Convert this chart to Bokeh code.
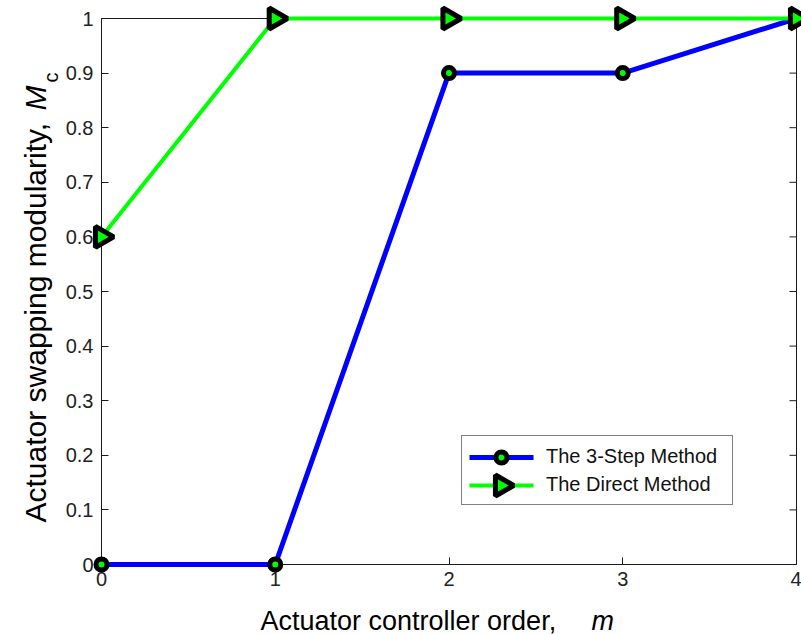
import math

from bokeh.core.properties import value
from bokeh.embed import file_html
from bokeh.models import FixedTicker, Legend, LegendItem, Range1d
from bokeh.plotting import figure
from bokeh.resources import INLINE

# Data
m_order = [0, 1, 2, 3, 4]
three_step = [0.0, 0.0, 0.9, 0.9, 1.0]
direct = [0.6, 1.0, 1.0, 1.0, 1.0]

x_ticks = [0, 1, 2, 3, 4]
y_ticks = [0, 0.1, 0.2, 0.3, 0.4, 0.5, 0.6, 0.7, 0.8, 0.9, 1]
y_tick_labels = ["0", "0.1", "0.2", "0.3", "0.4", "0.5", "0.6", "0.7", "0.8", "0.9", "1"]

series_names = ["The 3-Step Method", "The Direct Method"]

FONT = "Liberation Sans"
AXIS_COLOR = "#1a1a1a"
BLUE, GREEN = "#0000ff", "#00ff00"
X_MIN, X_MAX = 0, 4
Y_MIN, Y_MAX = 0, 1

# figure geometry (pixels)
W, H = 801, 634
BORDER_L, BORDER_R, BORDER_T, BORDER_B = 101, 5, 18, 70
FRAME_W = W - BORDER_L - BORDER_R
FRAME_H = H - BORDER_T - BORDER_B


def px_to_x(px):
    """Canvas pixel column -> data x."""
    return X_MIN + (px - BORDER_L) * (X_MAX - X_MIN) / FRAME_W


def px_to_y(py):
    """Canvas pixel row (from top) -> data y."""
    return Y_MIN + (H - BORDER_B - py) * (Y_MAX - Y_MIN) / FRAME_H


p = figure(
    width=W, height=H,
    x_range=Range1d(X_MIN, X_MAX), y_range=Range1d(Y_MIN, Y_MAX),
    min_border_left=BORDER_L, min_border_right=BORDER_R,
    min_border_top=BORDER_T, min_border_bottom=BORDER_B,
    output_backend="svg", toolbar_location=None,
    background_fill_color="white", border_fill_color="white",
)
p.grid.visible = False
p.outline_line_color = AXIS_COLOR

xa = p.xaxis[0]
ya = p.yaxis[0]
xa.ticker = FixedTicker(ticks=x_ticks)
ya.ticker = FixedTicker(ticks=y_ticks)
ya.major_label_overrides = dict(zip(y_ticks, y_tick_labels))
for ax in (xa, ya):
    ax.axis_line_color = AXIS_COLOR
    ax.major_tick_line_color = AXIS_COLOR
    ax.major_tick_in = 7
    ax.major_tick_out = 0
    ax.minor_tick_line_color = None
    ax.major_label_text_font = FONT
    ax.major_label_text_font_size = "20px"
    ax.major_label_text_color = "#222222"
xa.major_label_standoff = 7
ya.major_label_standoff = 8

# inward ticks on the top and right edges of the box
p.ray(x=x_ticks, y=[Y_MAX] * len(x_ticks), length=7, length_units="screen",
      angle=-math.pi / 2, line_color=AXIS_COLOR, line_width=1)
p.ray(x=[X_MAX] * len(y_ticks), y=y_ticks, length=7, length_units="screen",
      angle=math.pi, line_color=AXIS_COLOR, line_width=1)

# series styles shared by the plot and its legend
blue_line = dict(line_color=BLUE, line_width=5, level="overlay")
green_line = dict(line_color=GREEN, line_width=4, level="overlay")
circle_style = dict(marker="circle", size=11, line_color="black",
                    line_width=5, fill_color=GREEN, level="overlay")
tri_style = dict(marker="triangle", size=21, angle=-math.pi / 2,
                 line_color="black", line_width=5, fill_color=GREEN,
                 level="overlay")

# 3-step method: blue line with black-edged circles
p.line(m_order, three_step, **blue_line)
p.scatter(m_order, three_step, **circle_style)

# direct method: green line with black-edged right-pointing triangles
p.line(m_order, direct, **green_line)
p.scatter(m_order, direct, **tri_style)

# legend: box and labels from Bokeh's Legend, samples drawn as glyphs
LEG_X, LEG_Y = 360, 59          # bottom-left of the legend box, in frame px
LEG_PAD, GLYPH_W, ROW_H, ROW_GAP = 8, 64, 24, 4
key1 = p.line(m_order, three_step, line_alpha=0)
key2 = p.line(m_order, direct, line_alpha=0)
legend = Legend(
    items=[LegendItem(label=series_names[0], renderers=[key1]),
           LegendItem(label=series_names[1], renderers=[key2])],
    location=(LEG_X, LEG_Y),
    orientation="vertical",
    glyph_width=GLYPH_W, glyph_height=ROW_H,
    label_height=ROW_H, label_width=178,
    label_standoff=12, spacing=ROW_GAP, padding=LEG_PAD, margin=0,
    label_text_font=FONT, label_text_font_size="20px",
    label_text_color="#111111",
    border_line_color="black", border_line_width=1,
    background_fill_alpha=0,
)
p.add_layout(legend)

leg_top_px = H - BORDER_B - LEG_Y - (2 * LEG_PAD + 2 * ROW_H + ROW_GAP)
sample_x0 = px_to_x(BORDER_L + LEG_X + LEG_PAD)
sample_x1 = px_to_x(BORDER_L + LEG_X + LEG_PAD + GLYPH_W)
leg_cx = (sample_x0 + sample_x1) / 2
row1_cy = px_to_y(leg_top_px + LEG_PAD + ROW_H / 2)
row2_cy = px_to_y(leg_top_px + LEG_PAD + ROW_H + ROW_GAP + ROW_H / 2)
p.segment(x0=[sample_x0], y0=[row1_cy], x1=[sample_x1], y1=[row1_cy], **blue_line)
p.scatter([leg_cx], [row1_cy], **circle_style)
p.segment(x0=[sample_x0], y0=[row2_cy], x1=[sample_x1], y1=[row2_cy], **green_line)
p.scatter([leg_cx], [row2_cy], **tri_style)

# x axis title with italic symbol
p.text(x=[px_to_x(260)], y=[px_to_y(620)], text=["Actuator controller order,"],
       text_font=value(FONT), text_font_size="27px", text_color="black",
       text_align="left", text_baseline="alphabetic", level="overlay")
p.text(x=[px_to_x(591)], y=[px_to_y(620)], text=["m"], text_font=value(FONT),
       text_font_style="italic", text_font_size="27px", text_color="black",
       text_align="left", text_baseline="alphabetic", level="overlay")

# y axis title with italic M and subscript c
p.text(x=[px_to_x(35)], y=[px_to_y(522)], text=["Actuator swapping modularity,"],
       angle=math.pi / 2, text_font=value(FONT), text_font_size="30px",
       text_color="black", text_align="left", text_baseline="alphabetic",
       level="overlay")
p.text(x=[px_to_x(35)], y=[px_to_y(110)], text=["M"], angle=math.pi / 2,
       text_font=value(FONT), text_font_style="italic",
       text_font_size="30px", text_color="black", text_align="left",
       text_baseline="alphabetic", level="overlay")
p.text(x=[px_to_x(50)], y=[px_to_y(82)], text=["c"], angle=math.pi / 2,
       text_font=value(FONT), text_font_size="20px", text_color="black",
       text_align="left", text_baseline="alphabetic", level="overlay")

open("out.html", "w").write(file_html(p, INLINE))
